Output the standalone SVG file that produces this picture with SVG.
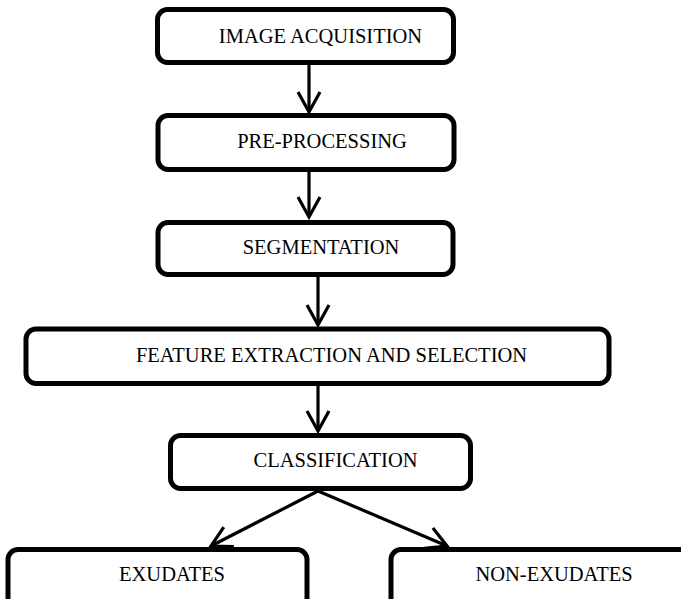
<svg xmlns="http://www.w3.org/2000/svg" width="681" height="599" viewBox="0 0 681 599">
  <style>
    .box { fill: #ffffff; stroke: #000000; stroke-width: 5; }
    .label { font-family: "Liberation Serif", "Times New Roman", serif; font-size: 20.5px; fill: #000000; text-anchor: middle; }
    .conn { fill: none; stroke: #000000; stroke-width: 3.2; marker-end: url(#arrow); }
  </style>
  <defs>
    <marker id="arrow" markerUnits="userSpaceOnUse" viewBox="-24 -14 28 28" markerWidth="28" markerHeight="28" refX="0" refY="0" orient="auto">
      <path d="M -20 -11 L 0 0 L -20 11" fill="none" stroke="#000000" stroke-width="3.2" stroke-linejoin="miter"/>
    </marker>
  </defs>
  <rect width="681" height="599" fill="#ffffff"/>

  <g id="connectors">
    <line class="conn" x1="309" y1="65" x2="309" y2="112"/>
    <line class="conn" x1="309" y1="172" x2="309" y2="217"/>
    <line class="conn" x1="318" y1="277" x2="318" y2="325"/>
    <line class="conn" x1="318" y1="386" x2="318" y2="431"/>
    <line class="conn" x1="318" y1="491" x2="211" y2="546"/>
    <line class="conn" x1="318" y1="491" x2="447" y2="546"/>
  </g>

  <g id="image-acquisition">
    <rect class="box" x="157.5" y="9.5" width="296" height="53" rx="10"/>
    <text class="label" x="320.5" y="43">IMAGE ACQUISITION</text>
  </g>
  <g id="pre-processing">
    <rect class="box" x="158" y="115.5" width="296" height="54" rx="10"/>
    <text class="label" x="322" y="148">PRE-PROCESSING</text>
  </g>
  <g id="segmentation">
    <rect class="box" x="158" y="222.5" width="295" height="52" rx="10"/>
    <text class="label" x="321" y="254">SEGMENTATION</text>
  </g>
  <g id="feature-extraction">
    <rect class="box" x="26" y="329" width="583" height="54.5" rx="10"/>
    <text class="label" x="331.5" y="362">FEATURE EXTRACTION AND SELECTION</text>
  </g>
  <g id="classification">
    <rect class="box" x="170.5" y="435.5" width="300" height="53" rx="10"/>
    <text class="label" x="335.5" y="467">CLASSIFICATION</text>
  </g>
  <g id="exudates">
    <rect class="box" x="8" y="549.5" width="299" height="70" rx="10"/>
    <text class="label" x="172" y="581">EXUDATES</text>
  </g>
  <g id="non-exudates">
    <rect class="box" x="391" y="549.5" width="320" height="70" rx="10"/>
    <text class="label" x="554" y="581">NON-EXUDATES</text>
  </g>
</svg>
